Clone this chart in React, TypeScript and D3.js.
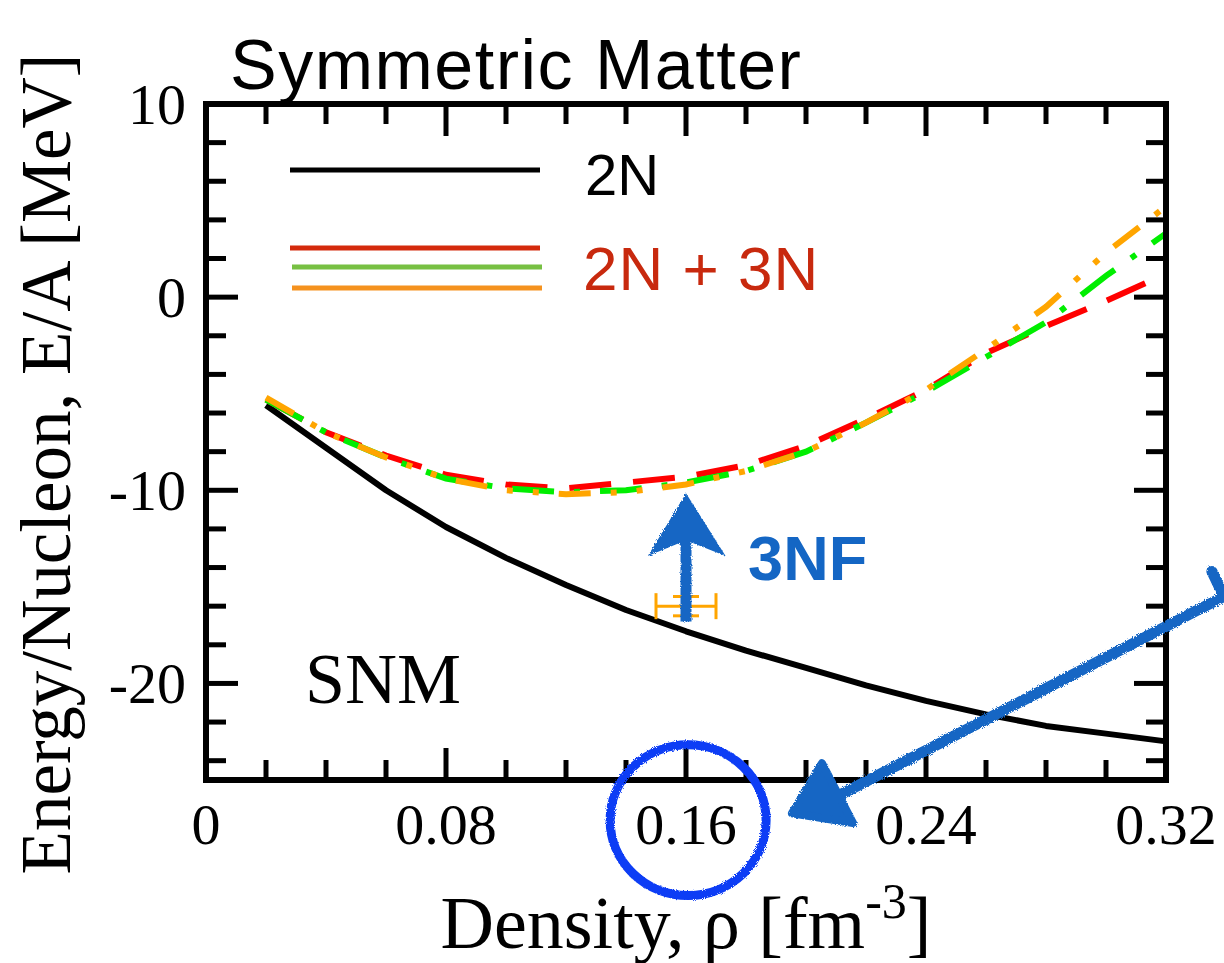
import React from 'react';
import * as d3 from 'd3';

// density grid, fm^-3
const density = [0.02, 0.04, 0.06, 0.08, 0.1, 0.12, 0.14, 0.16, 0.18, 0.2, 0.22, 0.24, 0.26, 0.28, 0.3, 0.32];
// E/A in MeV
const energy2N = [-5.6, -7.8, -10.0, -11.9, -13.5, -14.9, -16.2, -17.3, -18.3, -19.2, -20.1, -20.9, -21.6, -22.2, -22.6, -23.0];
const energy3NRed = [-5.3, -7.0, -8.2, -9.2, -9.7, -9.9, -9.6, -9.3, -8.7, -7.7, -6.3, -4.8, -2.9, -1.5, -0.2, 1.2];
const energy3NGreen = [-5.3, -7.0, -8.3, -9.4, -9.9, -10.1, -10.0, -9.6, -9.0, -8.0, -6.5, -4.9, -3.1, -1.3, 1.1, 3.3];
const energy3NOrange = [-5.2, -7.0, -8.3, -9.4, -10.0, -10.2, -10.1, -9.7, -9.0, -8.0, -6.5, -4.8, -2.7, -0.5, 2.3, 4.7];

// empirical saturation point [rho, E, dRho, dE]
const saturation = [0.16, -16.0, 0.01, 0.5];

const xTicks = [0, 0.08, 0.16, 0.24, 0.32];
const xTickLabels = ['0', '0.08', '0.16', '0.24', '0.32'];
const yTicks = [10, 0, -10, -20];
const yTickLabels = ['10', '0', '-10', '-20'];

const W = 1224;
const H = 963;
const serif = '"Liberation Serif", "Times New Roman", serif';
const sans = '"Liberation Sans", Arial, Helvetica, sans-serif';
const blue = '#1466c4';

export default function App() {
  const x = d3.scaleLinear().domain([0, 0.32]).range([206, 1166]);
  const y = d3.scaleLinear().domain([-25, 10]).range([780, 104]);

  const line = d3.line<[number, number]>()
    .x(d => x(d[0]))
    .y(d => y(d[1]));

  const pts = (vals: number[]) => density.map((r, i) => [r, vals[i]] as [number, number]);

  const xMinor = d3.range(0, 17).map(i => +(i * 0.02).toFixed(2)).filter(v => !xTicks.includes(v));
  const yMinor = d3.range(-24, 10, 2).filter(v => v % 10 !== 0);

  const series = [
    { vals: energy3NRed, color: '#ff0000', dash: '42 22' },
    { vals: energy3NGreen, color: '#00ee00', dash: '42 20 6 20' },
    { vals: energy3NOrange, color: '#ffa500', dash: '32 20 6 20 6 20' },
  ];

  const [sr, se, sdr, sde] = saturation;

  // 3NF arrow head (data coords)
  const head: [number, number][] = [
    [0.16, -10.15], [0.1732, -13.4], [0.1618, -12.7], [0.1582, -12.7], [0.1473, -13.4],
  ];
  const bigHead: [number, number][] = [[0.1953, -26.72], [0.2053, -24.13], [0.2157, -27.23]];
  const bigLine: [number, number][] = [[0.3353, -14.2], [0.3393, -15.5], [0.2097, -25.9]];

  const cx = 0.1607, cy = -27.08;

  return (
    <svg width={W} height={H} style={{ position: 'absolute', left: 0, top: 0, background: '#fff' }}>
      <defs>
        <filter id="rough" x="-10%" y="-10%" width="120%" height="120%">
          <feTurbulence type="fractalNoise" baseFrequency="0.9" numOctaves="2" result="n" />
          <feDisplacementMap in="SourceGraphic" in2="n" scale="4" />
        </filter>
      </defs>

      {/* title */}
      <text x={230} y={89} fontFamily={sans} fontSize={70} letterSpacing={1.5} fill="#000">Symmetric Matter</text>

      {/* 2N curve */}
      <path d={line(pts(energy2N)) || ''} fill="none" stroke="#000" strokeWidth={6} strokeLinejoin="round" />

      {/* 2N+3N curves */}
      {series.map((s, i) => (
        <path key={i} d={line(pts(s.vals)) || ''} fill="none" stroke={s.color} strokeWidth={6}
          strokeDasharray={s.dash} />
      ))}

      {/* saturation point error bars */}
      <g stroke="#ffa500" strokeWidth={3}>
        <line x1={x(sr - sdr)} x2={x(sr + sdr)} y1={y(se)} y2={y(se)} />
        <line x1={x(sr - sdr)} x2={x(sr - sdr)} y1={y(se) - 13} y2={y(se) + 13} />
        <line x1={x(sr + sdr)} x2={x(sr + sdr)} y1={y(se) - 13} y2={y(se) + 13} />
        <line x1={x(sr)} x2={x(sr)} y1={y(se - sde)} y2={y(se + sde)} />
        <line x1={x(sr) - 13} x2={x(sr) + 13} y1={y(se + sde)} y2={y(se + sde)} />
        <line x1={x(sr) - 13} x2={x(sr) + 13} y1={y(se - sde)} y2={y(se - sde)} />
      </g>

      {/* frame and ticks */}
      <rect x={x(0)} y={y(10)} width={x(0.32) - x(0)} height={y(-25) - y(10)} fill="none" stroke="#000" strokeWidth={6} />
      <g stroke="#000" strokeWidth={5}>
        {xMinor.map(v => (
          <g key={'xm' + v}>
            <line x1={x(v)} x2={x(v)} y1={y(-25)} y2={y(-25) - 20} />
            <line x1={x(v)} x2={x(v)} y1={y(10)} y2={y(10) + 20} />
          </g>
        ))}
        {xTicks.map(v => (
          <g key={'xM' + v}>
            <line x1={x(v)} x2={x(v)} y1={y(-25)} y2={y(-25) - 32} />
            <line x1={x(v)} x2={x(v)} y1={y(10)} y2={y(10) + 32} />
          </g>
        ))}
        {yMinor.map(v => (
          <g key={'ym' + v}>
            <line x1={x(0)} x2={x(0) + 20} y1={y(v)} y2={y(v)} />
            <line x1={x(0.32)} x2={x(0.32) - 20} y1={y(v)} y2={y(v)} />
          </g>
        ))}
        {yTicks.map(v => (
          <g key={'yM' + v}>
            <line x1={x(0)} x2={x(0) + 32} y1={y(v)} y2={y(v)} />
            <line x1={x(0.32)} x2={x(0.32) - 32} y1={y(v)} y2={y(v)} />
          </g>
        ))}
      </g>

      {/* tick labels */}
      <g fontFamily={serif} fontSize={58} fill="#000">
        {xTicks.map((v, i) => (
          <text key={'xl' + v} x={x(v)} y={844} textAnchor="middle">{xTickLabels[i]}</text>
        ))}
        {yTicks.map((v, i) => (
          <text key={'yl' + v} x={186} y={y(v)} dy="0.34em" textAnchor="end">{yTickLabels[i]}</text>
        ))}
      </g>

      {/* axis titles */}
      <text transform="translate(70,464) rotate(-90)" textAnchor="middle" fontFamily={serif} fontSize={71} fill="#000">
        Energy/Nucleon, E/A [MeV]
      </text>
      <text x={686} y={948} textAnchor="middle" fontFamily={serif} fontSize={74} fill="#000">
        Density, ρ [fm<tspan dy={-30} fontSize={50}>-3</tspan><tspan dy={30}>]</tspan>
      </text>

      {/* legend */}
      <line x1={290} x2={540} y1={170} y2={170} stroke="#000" strokeWidth={5} />
      <text x={585} y={195} fontFamily={sans} fontSize={58} fill="#000">2N</text>
      <line x1={290} x2={540} y1={248} y2={248} stroke="#d42a0c" strokeWidth={5} />
      <line x1={292} x2={542} y1={267} y2={267} stroke="#77c043" strokeWidth={5} />
      <line x1={292} x2={542} y1={288} y2={288} stroke="#f5921e" strokeWidth={5} />
      <text x={583} y={290} fontFamily={sans} fontSize={62} letterSpacing={1} fill="#c8290e">2N + 3N</text>

      {/* SNM label */}
      <text x={x(0.033)} y={y(-21)} fontFamily={serif} fontSize={72} fill="#000">SNM</text>

      {/* hand-drawn annotations */}
      <g filter="url(#rough)">
        <line x1={x(0.16)} x2={x(0.16)} y1={y(-16.8)} y2={y(-12)} stroke={blue} strokeWidth={11} />
        <polygon points={head.map(p => `${x(p[0])},${y(p[1])}`).join(' ')} fill={blue} />
        <path d={line(bigLine) || ''} fill="none" stroke={blue} strokeWidth={11} strokeLinecap="round" strokeLinejoin="round" />
        <polygon points={bigHead.map(p => `${x(p[0])},${y(p[1])}`).join(' ')} fill={blue} stroke={blue} strokeWidth={8} strokeLinejoin="round" />
        <ellipse cx={x(cx)} cy={y(cy)} rx={x(cx + 0.026) - x(cx)} ry={y(cy - 3.9) - y(cy)} fill="none" stroke="#0b3cf5" strokeWidth={9} />
      </g>
      <text x={x(0.1807)} y={y(-14.65)} fontFamily={sans} fontWeight="bold" fontSize={63} fill={blue}>3NF</text>
    </svg>
  );
}
